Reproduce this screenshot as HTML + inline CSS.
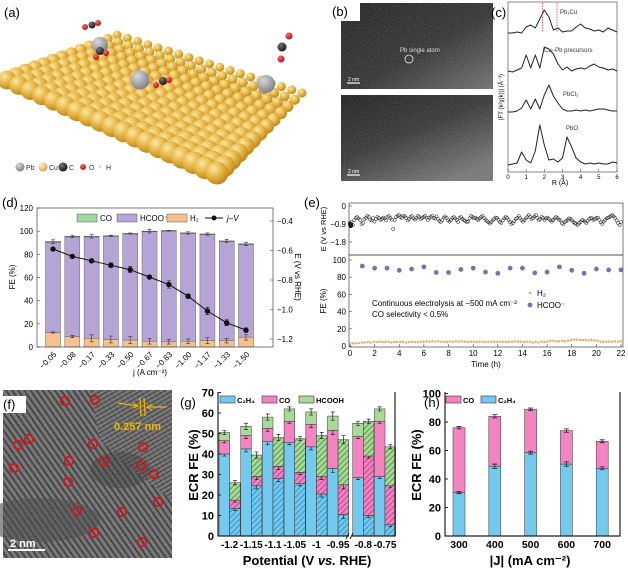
<!DOCTYPE html>
<html><head><meta charset="utf-8"><style>
html,body{margin:0;padding:0;background:#fff;}
svg{display:block;font-family:"Liberation Sans",sans-serif;}
</style></head><body>
<svg id="fig" width="628" height="570" viewBox="0 0 628 570" xmlns="http://www.w3.org/2000/svg">
<defs>
<radialGradient id="gold" cx="0.35" cy="0.3" r="0.75"><stop offset="0" stop-color="#fbe7a0"/><stop offset="0.5" stop-color="#e6b545"/><stop offset="1" stop-color="#b98417"/></radialGradient>
<radialGradient id="goldl" cx="0.35" cy="0.3" r="0.75"><stop offset="0" stop-color="#fdecc5"/><stop offset="0.6" stop-color="#eec27a"/><stop offset="1" stop-color="#c89a4c"/></radialGradient>
<radialGradient id="gray" cx="0.35" cy="0.3" r="0.75"><stop offset="0" stop-color="#d7d7dc"/><stop offset="1" stop-color="#7d7d85"/></radialGradient>
<radialGradient id="red" cx="0.35" cy="0.3" r="0.75"><stop offset="0" stop-color="#ff6a6a"/><stop offset="1" stop-color="#b00d12"/></radialGradient>
<radialGradient id="blk" cx="0.35" cy="0.3" r="0.75"><stop offset="0" stop-color="#777"/><stop offset="1" stop-color="#111"/></radialGradient>
<linearGradient id="stemB" x1="0" y1="0" x2="0.7" y2="1"><stop offset="0" stop-color="#101010"/><stop offset="0.5" stop-color="#2a2a2a"/><stop offset="1" stop-color="#707070"/></linearGradient>
<linearGradient id="bg1" x1="0" y1="0" x2="1" y2="1"><stop offset="0" stop-color="#141414"/><stop offset="0.55" stop-color="#262626"/><stop offset="1" stop-color="#6a6a6a"/></linearGradient>
<filter id="grain" x="0" y="0" width="100%" height="100%"><feTurbulence type="fractalNoise" baseFrequency="0.9" numOctaves="2" seed="3"/><feColorMatrix type="saturate" values="0"/><feComponentTransfer><feFuncA type="linear" slope="0.35"/></feComponentTransfer></filter>
<pattern id="fringe" width="5" height="5" patternUnits="userSpaceOnUse" patternTransform="rotate(-35)"><rect width="5" height="5" fill="#6c6c6c"/><rect width="2" height="5" fill="#2e2e2e"/></pattern>
<pattern id="fringe2" width="4" height="4" patternUnits="userSpaceOnUse" patternTransform="rotate(60)"><rect width="4" height="4" fill="#707070"/><rect width="1.6" height="4" fill="#333"/></pattern>
<pattern id="hatchB" width="4" height="4" patternUnits="userSpaceOnUse" patternTransform="rotate(45)"><rect width="4" height="4" fill="#74c9ef"/><rect width="1.2" height="4" fill="#3f9cc8"/></pattern>
<pattern id="hatchP" width="4" height="4" patternUnits="userSpaceOnUse" patternTransform="rotate(45)"><rect width="4" height="4" fill="#f483c2"/><rect width="1.2" height="4" fill="#c64c93"/></pattern>
<pattern id="hatchG" width="4" height="4" patternUnits="userSpaceOnUse" patternTransform="rotate(45)"><rect width="4" height="4" fill="#a9da9a"/><rect width="1.2" height="4" fill="#5f9f50"/></pattern>
</defs>

<g id="pa">
<text x="4" y="17" font-size="13">(a)</text>
</g>
<g>
<rect x="341" y="3" width="152" height="86" fill="url(#bg1)"/>
<rect x="341" y="3" width="152" height="86" filter="url(#grain)"/>
<rect x="341" y="95" width="152" height="86" fill="url(#stemB)"/>
<rect x="341" y="95" width="152" height="86" filter="url(#grain)"/>
<rect x="330" y="2" width="30" height="19" fill="#fff"/>
<text x="332" y="16" font-size="13">(b)</text>
<text x="400" y="52" font-size="6" fill="#ddd">Pb single atom</text>
<circle cx="409" cy="59" r="4" fill="none" stroke="#eee" stroke-width="0.8"/>
<line x1="347" y1="83" x2="360" y2="83" stroke="#fff" stroke-width="1.2"/>
<text x="348" y="81" font-size="5" fill="#fff">2 nm</text>
<line x1="347" y1="175" x2="360" y2="175" stroke="#fff" stroke-width="1.2"/>
<text x="348" y="173" font-size="5" fill="#fff">2 nm</text>
</g>
<g id="pc">
<text x="491" y="17" font-size="13">(c)</text>
<rect x="508" y="2" width="109" height="170" fill="none" stroke="#555" stroke-width="0.7"/>
<text x="0" y="0" font-size="6" transform="translate(503,120) rotate(-90)">|FT (k²χ(k))| (Å⁻³)</text>
<text x="560" y="185" font-size="7" text-anchor="middle">R (Å)</text>
</g>
<g id="pd">
<text x="2" y="207" font-size="13">(d)</text>
</g>
<g id="pe">
<text x="304" y="207" font-size="13">(e)</text>
</g>
<g>
<rect x="3" y="390" width="169" height="168" fill="url(#fringe)"/>
<path d="M90,390 L172,390 L172,500 Q130,470 100,440 Z" fill="url(#fringe2)" opacity="0.8"/>
<ellipse cx="40" cy="520" rx="60" ry="22" fill="#3a3a3a" opacity="0.55"/>
<ellipse cx="120" cy="470" rx="30" ry="18" fill="#2a2a2a" opacity="0.45"/>
<rect x="3" y="390" width="169" height="168" filter="url(#grain)"/>
<rect x="2" y="396" width="24" height="17" fill="#fff"/>
<text x="3" y="409" font-size="13">(f)</text>
<g id="fcircles"></g>
<line x1="140" y1="398" x2="141" y2="416" stroke="#f0b400" stroke-width="1.3"/>
<line x1="144" y1="398" x2="145" y2="416" stroke="#f0b400" stroke-width="1.3"/>
<path d="M118,403 L137,406 M133,403 L138,406 L133,408" stroke="#f0b400" stroke-width="1.2" fill="none"/>
<path d="M166,407 L148,407 M152,404 L147,407 L152,410" stroke="#f0b400" stroke-width="1.2" fill="none"/>
<text x="114" y="430" font-size="11" font-weight="bold" fill="#f0b400">0.257 nm</text>
<line x1="8" y1="550" x2="45" y2="550" stroke="#fff" stroke-width="2"/>
<text x="10" y="547" font-size="11" font-weight="bold" fill="#fff">2 nm</text>
</g>
<g id="pg">
<text x="180" y="407" font-size="13">(g)</text>
</g>
<g id="ph">
<text x="424" y="407" font-size="13">(h)</text>
</g>
</svg>
<script>
const NS='http://www.w3.org/2000/svg';
function mk(parent,tag,attrs,txt){const e=document.createElementNS(NS,tag);for(const k in attrs)e.setAttribute(k,attrs[k]);if(txt!==undefined)e.textContent=txt;parent.appendChild(e);return e;}

const dCategories=['−0.05','−0.08','−0.17','−0.33','−0.50','−0.67','−0.83','−1.00','−1.17','−1.33','−1.50'];
const dH2=[12.5,9,7.5,6.5,6,5,4.5,5,5.5,5.5,8.5];
const dH2Err=[0.5,1,3,3,3,2.5,2,2,2.5,2,2.5];
const dHCOO=[78.5,86.5,88,89.5,92,95,96,93.5,92,86,80.5];
const dCO=[0,0,0,0,0,0,0,0,0,0,0];
const dTotalErr=[1.5,1,1.5,0.5,0.5,1.5,0.3,1,1,1.5,1.5];
const dE=[-0.59,-0.64,-0.67,-0.70,-0.73,-0.78,-0.83,-0.91,-1.01,-1.09,-1.14];
const dEErr=[0.01,0.01,0.01,0.015,0.02,0.01,0.025,0.015,0.025,0.02,0.015];
const dLeftTicks=[0,20,40,60,80,100,120];
const dRightTicks=[-0.4,-0.6,-0.8,-1.0,-1.2];

const eHours=[1,2,3,4,5,6,7,8,9,10,11,12,13,14,15,16,17,18,19,20,21,22];
const eHCOO=[93,90.5,90.5,88,89.5,92,85.5,85.5,89,90.5,86,84.5,90.5,90.5,85,86,92,88,84.5,89.5,88.5,88.5];
const eH2=[3,3,3,3.5,4,4,4.5,4,5,4.5,5,4.5,4.5,5,4,4.5,5,4.5,5,4,4.5,5,4.5,4.5,5,5,5.5,5,5.5,5,5.5,5,5,4.5,5,5,5.5,5,5.5,5,4.5,5,5,4.5,5,5,4.5,5,5,5,4.5,5,5,4.5,5,5,5.5,5,5,4.5,5,5,4,4.5,4,5,4.5,5,6,6,5.5,5.5,6,5.5,6,7,7.5,7.5,7,7,7,6.5,7,6.5,6,5,5,5,5,5,5.5,5,5.5];
const eE=[-0.85,-0.8,-0.95,-0.7,-0.6,-0.55,-0.62,-0.7,-0.9,-0.85,-0.65,-0.6,-0.5,-0.55,-0.68,-0.72,-0.6,-0.78,-0.65,-0.55,-0.6,-0.7,-0.65,-0.58,-0.62,-0.72,-0.55,-0.5,-0.6,-0.68,-1.15,-0.7,-0.55,-0.5,-0.45,-0.55,-0.6,-0.48,-0.52,-0.6,-0.72,-0.65,-0.55,-0.5,-0.62,-0.68,-0.6,-0.5,-0.55,-0.65,-0.6,-0.55,-0.5,-0.58,-0.7,-0.6,-0.55,-0.48,-0.6,-0.62,-0.52,-0.65,-0.75,-0.8,-0.7,-0.58,-0.52,-0.6,-0.72,-0.78,-0.7,-0.6,-0.55,-0.62,-0.7,-0.8,-0.6,-0.55,-0.65,-0.7,-0.75,-0.8,-0.78,-0.62,-0.5,-0.55,-0.62,-0.58,-0.65,-0.7,-0.62,-0.55,-0.5,-0.6,-0.7,-0.75,-0.82,-0.88,-0.8,-0.72,-0.65,-0.58,-0.6,-0.7,-0.8,-0.85,-0.72,-0.62,-0.55,-0.6,-0.7,-0.8,-0.9,-0.85,-0.75,-0.65,-0.6,-0.5,-0.6,-0.7,-0.78,-0.7,-0.62,-0.55,-0.45,-0.55,-0.65,-0.6,-0.52,-0.45,-0.6,-0.7,-0.65,-0.55,-0.6,-0.7,-0.62,-0.58,-0.65,-0.72,-0.78,-0.7,-0.62,-0.55,-0.6,-0.68,-0.72,-0.85,-0.9,-0.8,-0.75,-0.7,-0.62,-0.65,-0.72,-0.8,-0.85,-0.9,-0.95,-0.85,-0.8,-0.7,-0.72,-0.78,-0.85,-0.75,-0.65,-0.6,-0.62,-0.7,-0.65,-0.6,-0.58,-0.7,-0.82,-0.9,-0.78,-0.7,-0.62,-0.58,-0.55,-0.5,-0.45,-0.52,-0.6,-0.72,-0.85,-0.95,-0.8];
const eStartE=[-0.9,-1.0,-0.95];
const eFETicks=[0,20,40,60,80,100];
const eTimeTicks=[0,2,4,6,8,10,12,14,16,18,20,22];
const eETicks=[0,-0.9,-1.8];

const gCategories=['-1.2','-1.15','-1.1','-1.05','-1','-0.95','-0.8','-0.75'];
const gSolidC2H4=[40,42.5,46,45.5,43.5,33,28.5,29];
const gSolidCO=[6.5,6.5,6.5,10.5,11,18.5,20,27];
const gSolidHCOOH=[4,4.5,5.5,6,6,7,6.5,6];
const gHatchC2H4=[13.5,24.5,28,25.5,20.5,10.5,10,5.5];
const gHatchCO=[4,4.5,6,5.5,8.5,14.5,29,19];
const gHatchHCOOH=[8.5,10.5,14,16.5,20,22,17,19];
const gSolidErr=[1,1.5,1.5,1,1.5,2,1,1];
const gTicks=[0,10,20,30,40,50,60,70];

const hCurrents=[300,400,500,600,700];
const hC2H4=[30.5,49,58.5,50.5,47.5];
const hCO=[45.5,35,30.5,23.5,19];
const hErrC2H4=[0.8,1.5,1,1.5,1];
const hErrTot=[0.8,1.2,0.8,1.2,1];
const hTicks=[0,20,40,60,80,100];

const cR=[0,0.25,0.5,0.75,1,1.25,1.5,1.75,2,2.25,2.5,2.75,3,3.25,3.5,3.75,4,4.25,4.5,4.75,5,5.25,5.5,5.75,6];
const cPb1Cu=[0,0,1,0,6,8,5,14,23,16,3,5,1,2,2,6,9,5,4,2,3,1,5,3,1];
const cPrec=[1,0,2,4,17,4,17,4,25,23,18,8,2,5,1,3,4,3,6,8,5,4,2,3,1];
const cPbCl2=[0,0,1,4,12,3,13,3,17,27,16,9,3,1,1,2,1,2,1,2,3,3,2,1,1];
const cPbO=[0,1,2,13,5,2,14,40,20,5,6,3,7,28,18,7,3,1,2,1,2,1,1,3,2];
const cTicks=[0,1,2,3,4,5,6];

(function(){
 const g=document.getElementById('pa');
 const L=[7,80],Bk=[117,35],R=[302,93],F=[217,173];
 const NU=18,NV=12;
 for(let iv=NV;iv>=0;iv--){
  for(let iu=0;iu<=NU;iu++){
   const u=iu/NU,v=iv/NV;
   const x=(1-u)*(1-v)*L[0]+u*(1-v)*F[0]+u*v*R[0]+(1-u)*v*Bk[0];
   const y=(1-u)*(1-v)*L[1]+u*(1-v)*F[1]+u*v*R[1]+(1-u)*v*Bk[1];
   const r=4.5+5*(1-v)+2*u*(1-v);
   const c=mk(g,'circle',{cx:x.toFixed(1),cy:y.toFixed(1),r:r.toFixed(1),fill:'url(#gold)'});
   
   
  }
 }
 const pbs=[[100,45,8],[140,80,9.5],[266,84,9]];
 pbs.forEach(p=>{
  const c=mk(g,'circle',{cx:p[0],cy:p[1],r:p[2],fill:'url(#gray)'});
  
  
 });
 const mols=[[[85,27,3],[92,25,3.5],[98,23,3]],[[96,57,3],[100,51,4],[106,53,3]],[[156,85,3],[163,81,4],[169,80,3]],[[289,36,3.5],[282,47,4.5],[281,59,3.5]]];
 mols.forEach(m=>{
  m.forEach((a,i)=>{
   const c=mk(g,'circle',{cx:a[0],cy:a[1],r:a[2],fill:i===1?'url(#blk)':'url(#red)'});
   
   
  });
 });
 const lg=[['url(#gray)','Pb',20],['url(#goldl)','Cu',43],['url(#blk)','C',63],['url(#red)','O',83],['#ddd','H',100]];
 lg.forEach(l=>{
  const c=mk(g,'circle',{cx:l[2],cy:167,r:l[1]==='H'?1.5:(l[1]==='O'?3:4.5),fill:l[0]});
  
  
  const t=mk(g,'text',{x:l[2]+6,y:170,'font-size':7,fill:'#333'},l[1]);
  
  
 });
})();

(function(){
 const g=document.getElementById('pc');
 const xC=r=>508+r*(109/6);
 const sets=[[cPb1Cu,33,'Pb₁Cu',560,14],[cPrec,72,'Cu−Pb precursors',544,52],[cPbCl2,112,'PbCl₂',563,96],[cPbO,165,'PbO',566,130]];
 sets.forEach((s,k)=>{
  let d='';
  s[0].forEach((v,i)=>{d+=(i?' L':'M')+xC(cR[i]).toFixed(1)+','+(s[1]-v).toFixed(1);});
  const p=mk(g,'path',{d:d,fill:'none',stroke:'#222','stroke-width':1,'stroke-linejoin':'round'});
  
  
  const t=mk(g,'text',{x:s[3],y:s[4],'font-size':6,fill:'#333'},s[2]);
  
  
 });
 [1.9,2.7].forEach(r=>{
  const l=mk(g,'line',{x1:xC(r),y1:3,x2:xC(r),y2:32,stroke:'#e03030','stroke-width':0.8,'stroke-dasharray':'1.5,1.2'});
  
  
 });
 cTicks.forEach(t=>{
  const l=mk(g,'line',{x1:xC(t),y1:172,x2:xC(t),y2:169,stroke:'#555','stroke-width':0.6});
  
  
  const tx=mk(g,'text',{x:xC(t),y:179,'font-size':6,'text-anchor':'middle'},t);
  
  
 });
})();

(function(){
 const g=document.getElementById('pd');
 const X0=37,X1=273,Y0=208,Y1=347;
 const xD=i=>53+i*((246-53)/(dCategories.length-1));
 const yD=v=>Y1-v*((Y1-Y0)/120);
 const yE=e=>221+(-0.4-e)*(118/0.8);
 const bw=15;
 dCategories.forEach((c,i)=>{
  const x=xD(i)-bw/2;
  const h2=mk(g,'rect',{x:x,y:yD(dH2[i]),width:bw,height:yD(0)-yD(dH2[i]),fill:'#f6c18f',stroke:'#666','stroke-width':0.5});
  
  
  const top=dH2[i]+dHCOO[i];
  const hc=mk(g,'rect',{x:x,y:yD(top),width:bw,height:yD(dH2[i])-yD(top),fill:'#b7a4d6',stroke:'#666','stroke-width':0.5});
  
  
  const tot=top+dCO[i];
  const co=mk(g,'rect',{x:x,y:yD(tot),width:bw,height:Math.max(0.6,yD(top)-yD(tot)),fill:'#9fd8a0',stroke:'#555','stroke-width':0.5});
  
  
  [[dH2[i],dH2Err[i]],[tot,dTotalErr[i]]].forEach(p=>{
   const eb=mk(g,'path',{d:`M${xD(i)},${yD(p[0]-p[1])} V${yD(p[0]+p[1])} M${xD(i)-2},${yD(p[0]-p[1])} h4 M${xD(i)-2},${yD(p[0]+p[1])} h4`,stroke:'#333','stroke-width':0.6,fill:'none'});
   
   
  });
  const lab=mk(g,'text',{x:0,y:0,'font-size':8,'text-anchor':'end',transform:`translate(${xD(i)+4},${355}) rotate(-45)`},c);
  
  
 });
 let d='';
 dE.forEach((e,i)=>{d+=(i?' L':'M')+xD(i)+','+yE(e).toFixed(1);});
 const line=mk(g,'path',{d:d,fill:'none',stroke:'#111','stroke-width':1});
 
 
 dE.forEach((e,i)=>{
  const eb=mk(g,'path',{d:`M${xD(i)},${yE(e-dEErr[i])} V${yE(e+dEErr[i])} M${xD(i)-2},${yE(e-dEErr[i])} h4 M${xD(i)-2},${yE(e+dEErr[i])} h4`,stroke:'#111','stroke-width':0.6,fill:'none'});
  
  
  const c=mk(g,'circle',{cx:xD(i),cy:yE(e),r:2.7,fill:'#111'});
  
  
 });
 const fr=mk(g,'rect',{x:X0,y:Y0,width:X1-X0,height:Y1-Y0,fill:'none',stroke:'#444','stroke-width':0.7});
 
 
 dLeftTicks.forEach(t=>{
  const l=mk(g,'line',{x1:X0,y1:yD(t),x2:X0+3,y2:yD(t),stroke:'#444','stroke-width':0.6});
  
  
  const tx=mk(g,'text',{x:X0-4,y:yD(t)+3,'font-size':8,'text-anchor':'end'},t);
  
  
 });
 dRightTicks.forEach(t=>{
  const l=mk(g,'line',{x1:X1,y1:yE(t),x2:X1-3,y2:yE(t),stroke:'#444','stroke-width':0.6});
  
  
  const tx=mk(g,'text',{x:X1+4,y:yE(t)+3,'font-size':8},t.toFixed(1).replace('-','−'));
  
  
 });
 const yt=mk(g,'text',{x:0,y:0,'font-size':8,'text-anchor':'middle',transform:'translate(15,277) rotate(-90)'},'FE (%)');
 
 
 const rt=mk(g,'text',{x:0,y:0,'font-size':8,'text-anchor':'middle',transform:'translate(295,277) rotate(90)'},'E (V vs RHE)');
 
 
 const xt=mk(g,'text',{x:150,y:375,'font-size':8,'text-anchor':'middle'},'j (A cm⁻²)');
 
 
 const leg=[['#9fd8a0','CO',77],['#b7a4d6','HCOO⁻',117],['#f6c18f','H₂',167]];
 leg.forEach(l=>{
  const r=mk(g,'rect',{x:l[2],y:214,width:20,height:8,fill:l[0],stroke:'#555','stroke-width':0.5});
  
  
  const t=mk(g,'text',{x:l[2]+23,y:221,'font-size':8},l[1]);
  
  
 });
 const ll=mk(g,'path',{d:'M205,218 H223',stroke:'#111','stroke-width':1});
 
 
 const lc=mk(g,'circle',{cx:214,cy:218,r:2.5,fill:'#111'});
 
 
 const lt=mk(g,'text',{x:227,y:221,'font-size':8,'font-style':'italic'},'j–V');
 
 
})();

(function(){
 const g=document.getElementById('pe');
 const X0=349,X1=623;
 const xE=t=>350+t*(271/22);
 const yEp=e=>206+(-e)*(36/1.8);
 const yF=v=>346-v*0.86;
 const frT=mk(g,'rect',{x:X0,y:203,width:X1-X0,height:52,fill:'none',stroke:'#444','stroke-width':0.7});
 
 
 const frB=mk(g,'rect',{x:X0,y:255,width:X1-X0,height:92,fill:'none',stroke:'#444','stroke-width':0.7});
 
 
 const step=22/(eE.length-1);
 eE.forEach((e,i)=>{
  const c=mk(g,'circle',{cx:xE(i*step).toFixed(1),cy:yEp(e).toFixed(1),r:1.6,fill:'none',stroke:'#111','stroke-width':0.5});
  
  
 });
 eStartE.forEach((e,i)=>{
  const c=mk(g,'circle',{cx:xE(i*0.05),cy:yEp(e),r:2,fill:'#111'});
  
  
 });
 const hs=22/(eH2.length-1);
 eH2.forEach((v,i)=>{
  const c=mk(g,'circle',{cx:xE(i*hs).toFixed(1),cy:yF(v).toFixed(1),r:1.2,fill:'#e9a95c'});
  
  
 });
 eHours.forEach((t,i)=>{
  const c=mk(g,'circle',{cx:xE(t),cy:yF(eHCOO[i]),r:2.4,fill:'#7b6fb4'});
  
  
 });
 eETicks.forEach(t=>{
  const tx=mk(g,'text',{x:X0-3,y:yEp(t)+3,'font-size':8,'text-anchor':'end'},t===0?'0':t.toFixed(1).replace('-','−'));
  
  
  const l=mk(g,'line',{x1:X0,y1:yEp(t),x2:X0+3,y2:yEp(t),stroke:'#444','stroke-width':0.6});
  
  
 });
 eFETicks.forEach(t=>{
  const tx=mk(g,'text',{x:X0-3,y:yF(t)+3,'font-size':8,'text-anchor':'end'},t);
  
  
  const l=mk(g,'line',{x1:X0,y1:yF(t),x2:X0+3,y2:yF(t),stroke:'#444','stroke-width':0.6});
  
  
 });
 eTimeTicks.forEach(t=>{
  const tx=mk(g,'text',{x:xE(t),y:356,'font-size':8,'text-anchor':'middle'},t);
  
  
  const l=mk(g,'line',{x1:xE(t),y1:347,x2:xE(t),y2:344,stroke:'#444','stroke-width':0.6});
  
  
 });
 const a=mk(g,'text',{x:0,y:0,'font-size':7.5,'text-anchor':'middle',transform:'translate(326,229) rotate(-90)'},'E (V vs RHE)');
 
 
 const b=mk(g,'text',{x:0,y:0,'font-size':8,'text-anchor':'middle',transform:'translate(326,301) rotate(-90)'},'FE (%)');
 
 
 const c=mk(g,'text',{x:486,y:367,'font-size':8,'text-anchor':'middle'},'Time (h)');
 
 
 const n1=mk(g,'text',{x:372,y:306,'font-size':8},'Continuous electrolysis at −500 mA cm⁻²');
 
 
 const n2=mk(g,'text',{x:372,y:317,'font-size':8},'CO selectivity < 0.5%');
 
 
 const l1=mk(g,'circle',{cx:530,cy:293,r:1.3,fill:'#e9a95c'});
 
 
 const l1t=mk(g,'text',{x:537,y:296,'font-size':8},'H₂');
 
 
 const l2=mk(g,'circle',{cx:530,cy:305,r:2.4,fill:'#7b6fb4'});
 
 
 const l2t=mk(g,'text',{x:537,y:308,'font-size':8},'HCOO⁻');
 
 
})();

(function(){
 const g=document.getElementById('fcircles');
 const pts=[[65,401],[95,400],[18,445],[29,439],[14,468],[93,444],[69,461],[104,462],[143,447],[141,466],[154,474],[68,482],[158,502],[77,511],[122,512],[94,533],[142,542]];
 pts.forEach(p=>{
  const c=mk(g,'circle',{cx:p[0],cy:p[1],r:4.2,fill:'none',stroke:'#e0101c','stroke-width':1.8});
  
  
 });
})();

(function(){
 const g=document.getElementById('pg');
 const X0=218,X1=395,Y0=392,Y1=536;
 const yG=v=>Y1-v*2.05;
 const gx=i=>219+i*21.7+(i>=6?3.5:0);
 const bw=10.6;
 gCategories.forEach((c,i)=>{
  const stacks=[[gSolidC2H4[i],gSolidCO[i],gSolidHCOOH[i],['#74c9ef','#f483c2','#a9da9a'],gx(i),'solid'],[gHatchC2H4[i],gHatchCO[i],gHatchHCOOH[i],['url(#hatchB)','url(#hatchP)','url(#hatchG)'],gx(i)+bw,'hatched']];
  stacks.forEach(s=>{
   let base=0;
   for(let k=0;k<3;k++){
    const r=mk(g,'rect',{x:s[4],y:yG(base+s[k]),width:bw,height:yG(base)-yG(base+s[k]),fill:s[3][k],stroke:'#333','stroke-width':0.5});
    
    
    base+=s[k];
    const cx=s[4]+bw/2,e=gSolidErr[i];
    const eb=mk(g,'path',{d:`M${cx},${yG(base-e)} V${yG(base+e)} M${cx-2},${yG(base-e)} h4 M${cx-2},${yG(base+e)} h4`,stroke:'#222','stroke-width':0.7,fill:'none'});
    
    
   }
  });
  const t=mk(g,'text',{x:gx(i)+bw,y:548,'font-size':10,'font-weight':'bold','text-anchor':'middle'},c);
  
  
 });
 const fr=mk(g,'path',{d:`M${X0},${Y0} V${Y1} H349 M352,${Y1} H${X1} V${Y0}`,fill:'none',stroke:'#222','stroke-width':1.2});
 
 
 const br=mk(g,'path',{d:`M346,${Y1+3} l3,-6 M350,${Y1+3} l3,-6`,stroke:'#222','stroke-width':1});
 
 
 gTicks.forEach(t=>{
  const tx=mk(g,'text',{x:X0-4,y:yG(t)+4,'font-size':11,'font-weight':'bold','text-anchor':'end'},t);
  
  
  const l=mk(g,'line',{x1:X0,y1:yG(t),x2:X0+3,y2:yG(t),stroke:'#222','stroke-width':1});
  
  
 });
 const yt=mk(g,'text',{x:0,y:0,'font-size':13,'font-weight':'bold','text-anchor':'middle',transform:'translate(198,465) rotate(-90)'},'ECR FE (%)');
 
 
 const xt=mk(g,'text',{x:307,y:565,'font-size':13,'font-weight':'bold','text-anchor':'middle'});
 
 
 xt.innerHTML='Potential (V <tspan font-style="italic">vs.</tspan> RHE)';
 const leg=[['#74c9ef','C₂H₄',220],['#f483c2','CO',262],['#a9da9a','HCOOH',299]];
 leg.forEach(l=>{
  const r=mk(g,'rect',{x:l[2],y:396,width:15,height:7,fill:l[0],stroke:'#333','stroke-width':0.6});
  
  
  const t=mk(g,'text',{x:l[2]+17,y:403,'font-size':7.5,'font-weight':'bold'},l[1]);
  
  
 });
})();

(function(){
 const g=document.getElementById('ph');
 const X0=445,X1=620,Y0=392,Y1=536;
 const yH=v=>Y1-v*1.425;
 const xH=j=>459+(j-300)*0.358;
 const bw=12;
 hCurrents.forEach((j,i)=>{
  const b=mk(g,'rect',{x:xH(j)-bw/2,y:yH(hC2H4[i]),width:bw,height:yH(0)-yH(hC2H4[i]),fill:'#74c9ef',stroke:'#333','stroke-width':0.5});
  
  
  const tot=hC2H4[i]+hCO[i];
  const p=mk(g,'rect',{x:xH(j)-bw/2,y:yH(tot),width:bw,height:yH(hC2H4[i])-yH(tot),fill:'#f483c2',stroke:'#333','stroke-width':0.5});
  
  
  [[hC2H4[i],hErrC2H4[i]],[tot,hErrTot[i]]].forEach(q=>{
   const eb=mk(g,'path',{d:`M${xH(j)},${yH(q[0]-q[1])} V${yH(q[0]+q[1])} M${xH(j)-2.5},${yH(q[0]-q[1])} h5 M${xH(j)-2.5},${yH(q[0]+q[1])} h5`,stroke:'#222','stroke-width':0.8,fill:'none'});
   
   
  });
  const t=mk(g,'text',{x:xH(j),y:548,'font-size':10.5,'font-weight':'bold','text-anchor':'middle'},j);
  
  
 });
 const fr=mk(g,'path',{d:`M${X0},${Y0} V${Y1} H${X1} V${Y0}`,fill:'none',stroke:'#222','stroke-width':1.2});
 
 
 hTicks.forEach(t=>{
  const tx=mk(g,'text',{x:X0-4,y:yH(t)+4,'font-size':11,'font-weight':'bold','text-anchor':'end'},t);
  
  
  const l=mk(g,'line',{x1:X0,y1:yH(t),x2:X0+3,y2:yH(t),stroke:'#222','stroke-width':1});
  
  
 });
 const yt=mk(g,'text',{x:0,y:0,'font-size':13,'font-weight':'bold','text-anchor':'middle',transform:'translate(421,465) rotate(-90)'},'ECR FE (%)');
 
 
 const xt=mk(g,'text',{x:530,y:565,'font-size':13,'font-weight':'bold','text-anchor':'middle'},'|J| (mA cm⁻²)');
 
 
 const leg=[['#f483c2','CO',446],['#74c9ef','C₂H₄',481]];
 leg.forEach(l=>{
  const r=mk(g,'rect',{x:l[2],y:396,width:15,height:7,fill:l[0],stroke:'#333','stroke-width':0.6});
  
  
  const t=mk(g,'text',{x:l[2]+17,y:403,'font-size':7.5,'font-weight':'bold'},l[1]);
  
  
 });
})();
</script>
</body></html>
